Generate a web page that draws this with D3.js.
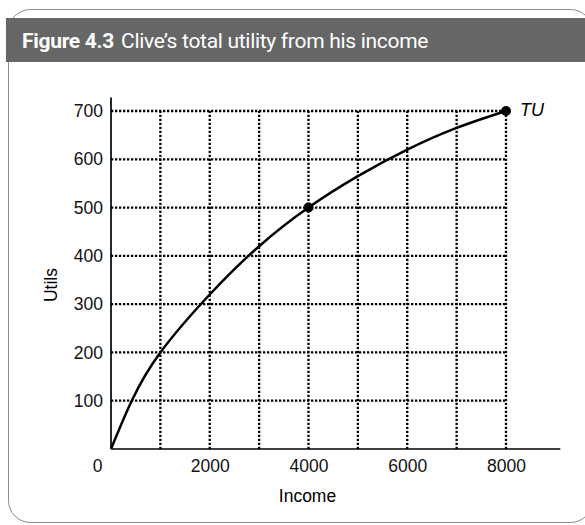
<!DOCTYPE html>
<html>
<head>
<meta charset="utf-8">
<script src="https://cdn.jsdelivr.net/npm/d3@7"></script>
<style>
  body { margin: 0; background: #fff; }
  svg { display: block; }
</style>
</head>
<body>
<svg id="chart" width="585" height="525"></svg>
<script>
// data
const incomeTicks = [0, 2000, 4000, 6000, 8000];
const utilTicks = [100, 200, 300, 400, 500, 600, 700];
const gridX = [1000, 2000, 3000, 4000, 5000, 6000, 7000, 8000];
const tuIncome = [0, 420, 1000, 2000, 3000, 4000, 5000, 6000, 7000, 8000];
const tuUtils = [0, 100, 200, 320, 420, 500, 565, 620, 665, 700];
const markedIncome = [4000, 8000];
const markedUtils = [500, 700];

const svg = d3.select('#chart');
const font = '"Liberation Sans", Arial, sans-serif';
const tickSize = '17.5px';

// panel frame + header band
svg.append('rect')
    .attr('x', 8.5).attr('y', 9.5)
    .attr('width', 584).attr('height', 513)
    .attr('rx', 22).attr('ry', 22)
    .attr('fill', 'none')
    .attr('stroke', '#8a8a8a')
    .attr('stroke-width', 1);

svg.append('rect')
    .attr('x', 6).attr('y', 18)
    .attr('width', 579).attr('height', 44)
    .attr('fill', '#666666');

const title = svg.append('text')
    .attr('x', 22).attr('y', 48)
    .style('font-family', 'Roboto, "Liberation Sans", sans-serif')
    .style('font-size', '21px')
    .style('letter-spacing', '-0.3px')
    .attr('fill', '#fff');
title.append('tspan').style('font-weight', 'bold').text('Figure 4.3');
title.append('tspan').attr('dx', 7).text('Clive\u2019s total utility from his income');

// scales
const x = d3.scaleLinear().domain([0, 8000]).range([111, 506]);
const y = d3.scaleLinear().domain([0, 700]).range([449, 111]);

const g = svg.append('g');

// dotted grid
g.append('g').selectAll('line')
    .data(utilTicks)
    .enter().append('line')
    .attr('x1', x(0)).attr('x2', x(8000))
    .attr('y1', d => y(d)).attr('y2', d => y(d))
    .attr('stroke', '#000')
    .attr('stroke-width', 2.3)
    .attr('stroke-dasharray', '2.3,1.7');

g.append('g').selectAll('line')
    .data(gridX)
    .enter().append('line')
    .attr('x1', d => x(d)).attr('x2', d => x(d))
    .attr('y1', y(0)).attr('y2', y(700))
    .attr('stroke', '#000')
    .attr('stroke-width', 2.3)
    .attr('stroke-dasharray', '2.3,1.7');

// axes (plain lines, labels without tick marks)
g.append('line')
    .attr('x1', x(0)).attr('x2', x(9100))
    .attr('y1', y(0)).attr('y2', y(0))
    .attr('stroke', '#000').attr('stroke-width', 1.7);
g.append('line')
    .attr('x1', x(0)).attr('x2', x(0))
    .attr('y1', y(0)).attr('y2', y(728))
    .attr('stroke', '#000').attr('stroke-width', 1.7);

const xAxis = d3.axisBottom(x).tickValues(incomeTicks).tickSize(0).tickPadding(11)
    .tickFormat(d3.format('d'));
const xg = g.append('g').attr('transform', `translate(0,${y(0)})`).call(xAxis);
xg.select('.domain').remove();
xg.selectAll('text').style('font-family', font).style('font-size', tickSize).attr('fill', '#111');
xg.selectAll('.tick').filter(d => d === 0).select('text').attr('dx', -14);

const yAxis = d3.axisLeft(y).tickValues(utilTicks).tickSize(0).tickPadding(8);
const yg = g.append('g').attr('transform', `translate(${x(0)},0)`).call(yAxis);
yg.select('.domain').remove();
yg.selectAll('text').style('font-family', font).style('font-size', tickSize).attr('fill', '#111');

// axis titles
svg.append('text')
    .attr('x', x(4000) - 1).attr('y', 502)
    .attr('text-anchor', 'middle')
    .style('font-family', font).style('font-size', tickSize)
    .text('Income');
svg.append('text')
    .attr('transform', 'translate(57,285) rotate(-90)')
    .attr('text-anchor', 'middle')
    .style('font-family', font).style('font-size', tickSize)
    .text('Utils');

// total utility curve
const line = d3.line()
    .x(d => x(d[0])).y(d => y(d[1]))
    .curve(d3.curveNatural);
g.append('path')
    .datum(d3.zip(tuIncome, tuUtils))
    .attr('d', line)
    .attr('fill', 'none')
    .attr('stroke', '#000')
    .attr('stroke-width', 2.5);

g.selectAll('circle')
    .data(d3.zip(markedIncome, markedUtils))
    .enter().append('circle')
    .attr('cx', d => x(d[0])).attr('cy', d => y(d[1]))
    .attr('r', 5)
    .attr('fill', '#000');

svg.append('text')
    .attr('x', x(8000) + 14).attr('y', y(700) + 5)
    .style('font-family', font).style('font-size', '18px').style('font-style', 'italic')
    .text('TU');
</script>
</body>
</html>
